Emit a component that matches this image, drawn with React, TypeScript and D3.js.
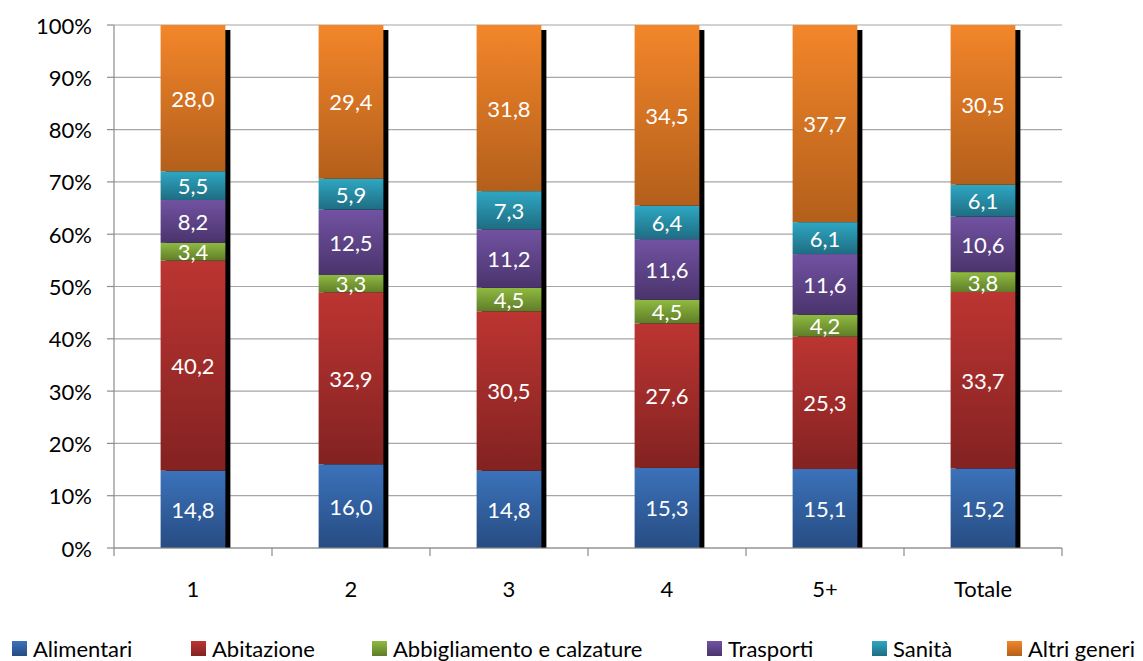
import React from "react";
import * as d3 from "d3";

const categories = ["1", "2", "3", "4", "5+", "Totale"];
const seriesNames = ["Alimentari", "Abitazione", "Abbigliamento e calzature", "Trasporti", "Sanità", "Altri generi"];
const alimentari = [14.8, 16.0, 14.8, 15.3, 15.1, 15.2];
const abitazione = [40.2, 32.9, 30.5, 27.6, 25.3, 33.7];
const abbigliamento = [3.4, 3.3, 4.5, 4.5, 4.2, 3.8];
const trasporti = [8.2, 12.5, 11.2, 11.6, 11.6, 10.6];
const sanita = [5.5, 5.9, 7.3, 6.4, 6.1, 6.1];
const altri = [28.0, 29.4, 31.8, 34.5, 37.7, 30.5];
const yTicks = [0, 0.1, 0.2, 0.3, 0.4, 0.5, 0.6, 0.7, 0.8, 0.9, 1.0];

const seriesValues = [alimentari, abitazione, abbigliamento, trasporti, sanita, altri];
const gradColors: [string, string][] = [
  ["#3b72ba", "#274c82"],
  ["#bc3532", "#822221"],
  ["#8fba40", "#5f7d29"],
  ["#7252a2", "#4a346c"],
  ["#2fa7c3", "#1e6d82"],
  ["#f3862a", "#b35f1b"],
];
const legendX = [12, 191, 372, 707, 872, 1007];

const W = 1143, H = 661;
const left = 114, right = 1062, top = 25, bottom = 548;
const FONT = "Lato, 'Open Sans', sans-serif";

export default function App() {
  const rows = categories.map((c, i) => {
    const r: any = { cat: c };
    seriesNames.forEach((s, j) => (r[s] = seriesValues[j][i]));
    return r;
  });
  const stack = d3.stack<any>().keys(seriesNames).offset(d3.stackOffsetExpand);
  const layers = stack(rows);
  const x = d3.scaleBand().domain(categories).range([left, right]).paddingInner(0.59).paddingOuter(0.295);
  const xOuter = d3.scaleBand().domain(categories).range([left, right]);
  const y = d3.scaleLinear().domain([0, 1]).range([bottom, top]);
  const fmt = (v: number) => v.toFixed(1).replace(".", ",");
  const bw = x.bandwidth();

  return (
    <svg width={W} height={H} style={{ position: "fixed", left: 0, top: 0, background: "#fff" }} fontFamily={FONT}>
      <defs>
        {gradColors.map((g, i) => (
          <linearGradient key={i} id={`g${i}`} x1="0" y1="0" x2="0" y2="1">
            <stop offset="0" stopColor={g[0]} />
            <stop offset="1" stopColor={g[1]} />
          </linearGradient>
        ))}
        <clipPath id="plotClip">
          <rect x={left} y={top} width={right - left} height={bottom - top} />
        </clipPath>
      </defs>
      {yTicks.map((t) => (
        <g key={t}>
          <line x1={left} x2={right} y1={y(t)} y2={y(t)} stroke="#a6a6a6" strokeWidth={1.2} />
          <line x1={left - 7} x2={left} y1={y(t)} y2={y(t)} stroke="#8c8c8c" strokeWidth={1.2} />
          <text x={left - 22} y={y(t)} textAnchor="end" dominantBaseline="central" fontSize={22} fill="#000">
            {Math.round(t * 100) + "%"}
          </text>
        </g>
      ))}
      {/* shadows */}
      <g clipPath="url(#plotClip)">
        {categories.map((c) => (
          <rect key={c} x={(x(c) as number) + 5} y={y(1) + 5} width={bw} height={bottom - y(1)} fill="#000" />
        ))}
      </g>
      {layers.map((layer, j) => (
        <g key={j}>
          {layer.map((d, i) => (
            <rect
              key={i}
              x={x(categories[i]) as number}
              y={y(d[1])}
              width={bw}
              height={y(d[0]) - y(d[1])}
              fill={`url(#g${j})`}
            />
          ))}
        </g>
      ))}
      {layers.map((layer, j) => (
        <g key={"l" + j}>
          {layer.map((d, i) => (
            <text
              key={i}
              x={(x(categories[i]) as number) + bw / 2}
              y={(y(d[0]) + y(d[1])) / 2}
              textAnchor="middle"
              dominantBaseline="central"
              fontSize={22}
              fill="#fff"
            >
              {fmt(seriesValues[j][i])}
            </text>
          ))}
        </g>
      ))}
      <line x1={left} x2={left} y1={top} y2={bottom} stroke="#8c8c8c" strokeWidth={1.2} />
      <line x1={left} x2={right} y1={bottom} y2={bottom} stroke="#8c8c8c" strokeWidth={1.2} />
      {categories.map((c) => (
        <line key={c} x1={xOuter(c) as number} x2={xOuter(c) as number} y1={bottom} y2={bottom + 8} stroke="#8c8c8c" strokeWidth={1.2} />
      ))}
      <line x1={right} x2={right} y1={bottom} y2={bottom + 8} stroke="#8c8c8c" strokeWidth={1.2} />
      {categories.map((c) => (
        <text key={c} x={(x(c) as number) + bw / 2} y={588} textAnchor="middle" dominantBaseline="central" fontSize={22} fill="#000">
          {c}
        </text>
      ))}
      {seriesNames.map((s, j) => (
        <g key={s}>
          <rect x={legendX[j]} y={641} width={15} height={15} fill={`url(#g${j})`} />
          <text x={legendX[j] + 21} y={648} dominantBaseline="central" fontSize={22} fill="#000">
            {s}
          </text>
        </g>
      ))}
    </svg>
  );
}
